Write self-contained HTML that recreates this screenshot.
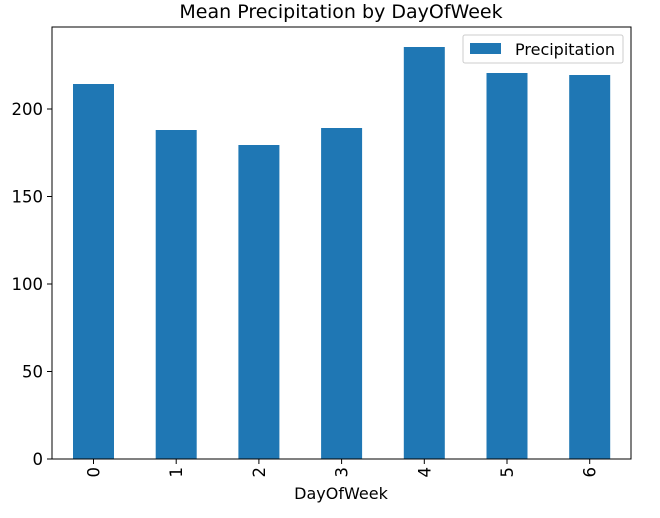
<!DOCTYPE html>
<html><head><meta charset="utf-8"><style>
html,body{margin:0;padding:0;background:#fff;}
svg{display:block;font-family:"DejaVu Sans","Liberation Sans",sans-serif;}
</style></head><body>
<svg width="660" height="518" viewBox="0 0 660 518" xmlns="http://www.w3.org/2000/svg">
<rect width="660" height="518" fill="#fff"/>
<text x="341" y="18" font-size="19" text-anchor="middle" fill="#000">Mean Precipitation by DayOfWeek</text>
<g fill="#1f77b4">
<rect x="73" y="84" width="41" height="375"/>
<rect x="155.7" y="130" width="41" height="329"/>
<rect x="238.4" y="145" width="41" height="314"/>
<rect x="321.1" y="128" width="41" height="331"/>
<rect x="403.8" y="47" width="41" height="412"/>
<rect x="486.5" y="73" width="41" height="386"/>
<rect x="569.2" y="75" width="41" height="384"/>
</g>
<rect x="52" y="27" width="579" height="432" fill="none" stroke="#000" stroke-width="1"/>
<g stroke="#000" stroke-width="1">
<line x1="47" x2="52" y1="459" y2="459"/>
<line x1="47" x2="52" y1="371.5" y2="371.5"/>
<line x1="47" x2="52" y1="284" y2="284"/>
<line x1="47" x2="52" y1="196.5" y2="196.5"/>
<line x1="47" x2="52" y1="109" y2="109"/>
</g>
<g font-size="16.5" fill="#000" text-anchor="end">
<text x="43" y="465">0</text>
<text x="43" y="377.5">50</text>
<text x="43" y="290">100</text>
<text x="43" y="202.5">150</text>
<text x="43" y="115">200</text>
</g>
<g stroke="#000" stroke-width="1">
<line x1="93.5" x2="93.5" y1="459" y2="464"/>
<line x1="176.2" x2="176.2" y1="459" y2="464"/>
<line x1="258.9" x2="258.9" y1="459" y2="464"/>
<line x1="341.6" x2="341.6" y1="459" y2="464"/>
<line x1="424.3" x2="424.3" y1="459" y2="464"/>
<line x1="507" x2="507" y1="459" y2="464"/>
<line x1="589.7" x2="589.7" y1="459" y2="464"/>
</g>
<g font-size="16.5" fill="#000">
<text transform="translate(99.5,467) rotate(-90)" text-anchor="end">0</text>
<text transform="translate(182.2,467) rotate(-90)" text-anchor="end">1</text>
<text transform="translate(264.9,467) rotate(-90)" text-anchor="end">2</text>
<text transform="translate(347.6,467) rotate(-90)" text-anchor="end">3</text>
<text transform="translate(430.3,467) rotate(-90)" text-anchor="end">4</text>
<text transform="translate(513,467) rotate(-90)" text-anchor="end">5</text>
<text transform="translate(595.7,467) rotate(-90)" text-anchor="end">6</text>
</g>
<text x="341" y="499" font-size="16" text-anchor="middle" fill="#000">DayOfWeek</text>
<rect x="463" y="35" width="160" height="28" rx="2" fill="#fff" fill-opacity="0.8" stroke="#ccc" stroke-width="1"/>
<rect x="470" y="43" width="31" height="11" fill="#1f77b4"/>
<text x="515" y="55" font-size="16" fill="#000">Precipitation</text>
</svg>
</body></html>
